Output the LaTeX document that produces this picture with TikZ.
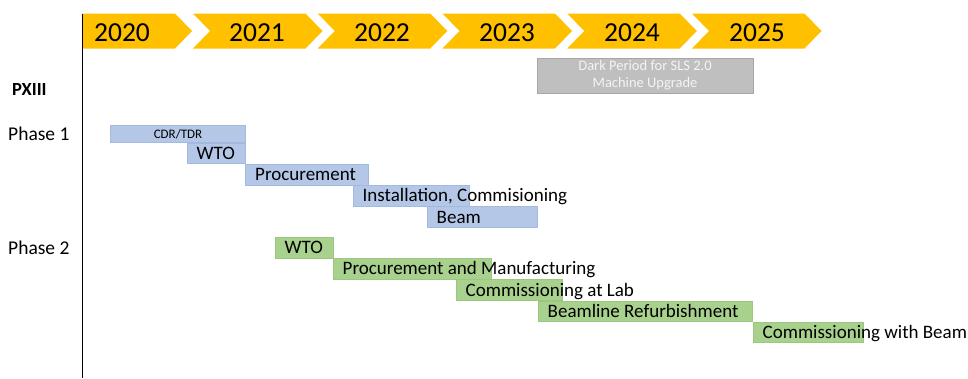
\documentclass[tikz,border=0pt]{standalone}
\usepackage{fontspec}
\setmainfont{Carlito}
\definecolor{chev}{HTML}{FFC000}
\definecolor{bluefill}{HTML}{B4C7E7}
\definecolor{blueline}{HTML}{A3B9E0}
\definecolor{greenfill}{HTML}{A9D18E}
\definecolor{greenline}{HTML}{9CC77F}
\definecolor{grayfill}{HTML}{BFBFBF}
\definecolor{grayline}{HTML}{A6A6A6}
\definecolor{graytext}{HTML}{F4F4F4}
\tikzset{
  chevron/.style={fill=chev, draw=none},
  yearlbl/.style={anchor=base, inner sep=0pt, font=\fontsize{27.5}{27.5}\selectfont},
  phaselbl/.style={anchor=base west, inner sep=0pt, font=\fontsize{19.5}{19.5}\selectfont},
  bluebar/.style={rectangle, fill=bluefill, draw=blueline, line width=0.7pt, inner sep=0pt, outer sep=0pt},
  greenbar/.style={rectangle, fill=greenfill, draw=greenline, line width=0.7pt, inner sep=0pt, outer sep=0pt},
  bartxt/.style={anchor=base west, inner sep=0pt, font=\fontsize{19}{19}\selectfont},
  axisline/.style={draw=black, line width=1.1pt},
  darkbox/.style={rectangle, fill=grayfill, draw=grayline, line width=0.7pt, inner sep=0pt,
    text=graytext, align=center, font=\fontsize{14.5}{16.7}\selectfont}
}
\newcommand\ganttbar[7]{%
  \node[#6, minimum width={#4-#2}, minimum height={#5-#3}, anchor=north west] (#1) at (#2,#3) {};
  \node[bartxt] (#1-t) at ([xshift=9.5pt, yshift=-6.2pt]#1.west) {#7};
}
\begin{document}
\begin{tikzpicture}[x=1pt,y=-1pt]
\useasboundingbox (0,0) rectangle (968,378);
% chevrons
\fill[chevron] (82,13.5) -- (175,13.5) -- (192,31) -- (175,48.5) -- (82,48.5) -- cycle;
\foreach \s in {193,317.75,442.5,567.25,692}{
  \fill[chevron] (\s,13.5) -- ({\s+112.5},13.5) -- ({\s+129.5},31) -- ({\s+112.5},48.5)
     -- (\s,48.5) -- ({\s+17},31) -- cycle;
}
\node[yearlbl] (y2020) at (122,41) {2020};
\node[yearlbl] (y2021) at (257,41) {2021};
\node[yearlbl] (y2022) at (382,41) {2022};
\node[yearlbl] (y2023) at (507,41) {2023};
\node[yearlbl] (y2024) at (632,41) {2024};
\node[yearlbl] (y2025) at (757,41) {2025};
% axis
\coordinate (axtop) at (82.5,13.5);
\coordinate (axbot) at (82.5,378);
\draw[axisline] (axtop) -- (axbot);
% dark period
\node[darkbox, minimum width=216, minimum height=35] (dark) at (645,75.5)
  {Dark Period for SLS 2.0\\Machine Upgrade};
% labels
\node[anchor=base west, inner sep=0pt, font=\fontsize{18.5}{18.5}\selectfont\bfseries] (pxiii) at (12,95.5) {PXIII};
\node[phaselbl] (ph1) at (8,140) {Phase 1};
\node[phaselbl] (ph2) at (8,254) {Phase 2};
% phase 1
\node[bluebar, minimum width=135, minimum height=17, anchor=north west] (cdr) at (110.5,125.5) {};
\node[anchor=base, inner sep=0pt, font=\fontsize{13}{13}\selectfont] (cdr-t) at ([yshift=-4.2pt]cdr.center) {CDR/TDR};
\ganttbar{wto1}{187}{143}{245.5}{163.5}{bluebar}{WTO}
\ganttbar{proc1}{245.5}{164.5}{368}{185}{bluebar}{Procurement}
\ganttbar{inst1}{353}{185.5}{469}{206}{bluebar}{Installation, Commisioning}
\ganttbar{beam1}{427}{206.5}{537.5}{227.5}{bluebar}{Beam}
% phase 2
\ganttbar{wto2}{275}{237.5}{333}{258}{greenbar}{WTO}
\ganttbar{pm2}{333}{258.5}{491}{279}{greenbar}{Procurement and Manufacturing}
\ganttbar{cal2}{456}{279.5}{562}{300.5}{greenbar}{Commissioning at Lab}
\ganttbar{br2}{538}{301}{752.5}{321.5}{greenbar}{Beamline Refurbishment}
\ganttbar{cwb2}{753}{322}{863}{342.5}{greenbar}{Commissioning with Beam}
\end{tikzpicture}
\end{document}
